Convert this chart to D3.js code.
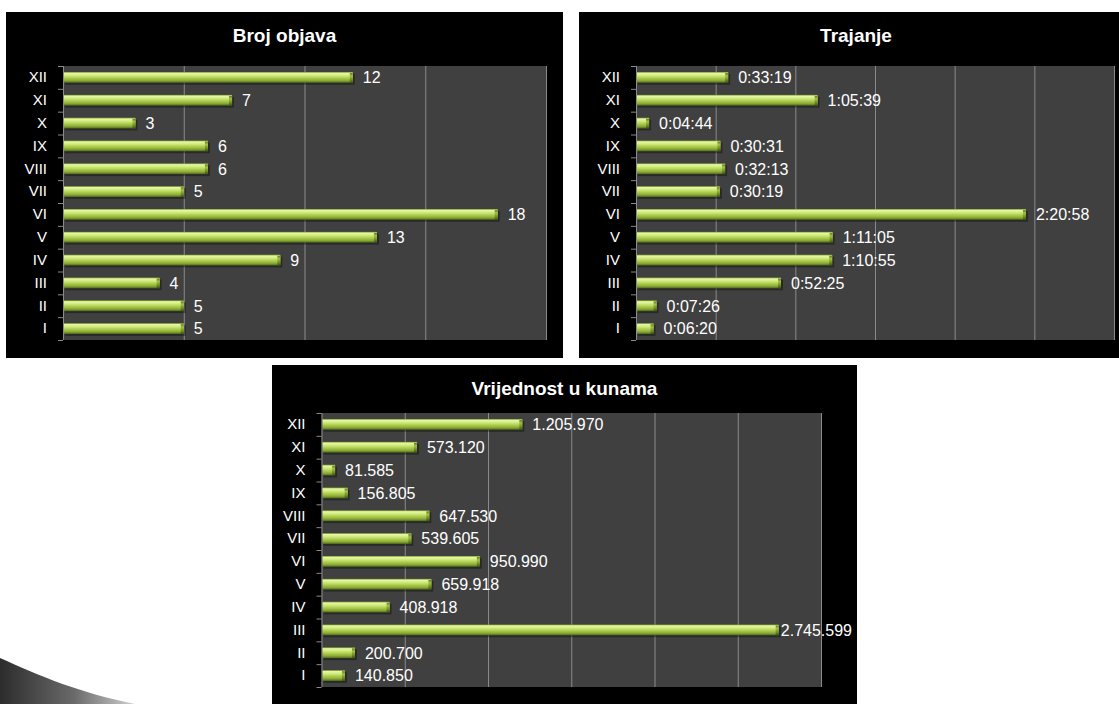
<!DOCTYPE html>
<html><head><meta charset="utf-8">
<script src="https://cdn.jsdelivr.net/npm/d3@7"></script>
<style>html,body{margin:0;padding:0;background:#fff;overflow:hidden;} svg{display:block;}</style>
</head><body><svg id="c" width="1119" height="704"></svg>
<script>
// ---- data ----
const categories = ["I","II","III","IV","V","VI","VII","VIII","IX","X","XI","XII"];
const brojObjava = [5,5,4,9,13,18,5,6,6,3,7,12];
const trajanje = ["0:06:20","0:07:26","0:52:25","1:10:55","1:11:05","2:20:58","0:30:19","0:32:13","0:30:31","0:04:44","1:05:39","0:33:19"];
const vrijednost = [140850,200700,2745599,408918,659918,950990,539605,647530,156805,81585,573120,1205970];
const titles = ["Broj objava","Trajanje","Vrijednost u kunama"];
const brojTicks = [0,5,10,15,20];
const trajanjeTicksDays = [0,0.02,0.04,0.06,0.08,0.10,0.12];
const vrijednostTicks = [0,500000,1000000,1500000,2000000,2500000,3000000];

const toSec = s => { const p = s.split(":").map(Number); return p[0]*3600 + p[1]*60 + p[2]; };
const dotFmt = v => d3.format(",")(v).replace(/,/g, ".");

const svg = d3.select("#c");
const FONT = "'Liberation Sans', Arial, sans-serif";

// ---- defs ----
const defs = svg.append("defs");
const bg = defs.append("linearGradient").attr("id","barGrad").attr("x1",0).attr("y1",0).attr("x2",0).attr("y2",1);
[[0,"#84a32e"],[0.12,"#e6f7a6"],[0.3,"#d4ec84"],[0.55,"#b0cf4f"],[0.8,"#8aaa36"],[1,"#50691a"]]
  .forEach(([o,c]) => bg.append("stop").attr("offset",o).attr("stop-color",c));
const cg = defs.append("linearGradient").attr("id","capGrad").attr("x1",0).attr("y1",0).attr("x2",0).attr("y2",1);
[[0,"#5f7c1e"],[0.3,"#a2c146"],[0.7,"#6c8b24"],[1,"#3c5012"]]
  .forEach(([o,c]) => cg.append("stop").attr("offset",o).attr("stop-color",c));
const sg = defs.append("linearGradient").attr("id","swoosh").attr("x1",0).attr("y1",0).attr("x2",1).attr("y2",0);
[[0,"#2c2c2c"],[0.55,"#6a6a6a"],[1,"#d0d0d0"]]
  .forEach(([o,c]) => sg.append("stop").attr("offset",o).attr("stop-color",c));

// decorative swoosh bottom-left
svg.append("path").attr("d","M0,658 C40,676 80,693 135,704 L0,704 Z").attr("fill","url(#swoosh)");

function drawChart(cfg) {
  const g = svg.append("g");
  const {box, plot} = cfg;
  g.append("rect").attr("x",box.x).attr("y",box.y).attr("width",box.w).attr("height",box.h).attr("fill","#000");
  g.append("text").attr("x",box.x+box.w/2).attr("y",box.y+30).attr("text-anchor","middle")
    .attr("fill","#fff").attr("font-family",FONT).attr("font-weight","bold").attr("font-size",19)
    .text(cfg.title);

  const x = d3.scaleLinear().domain(cfg.domain).range([plot.x0, plot.x1]);
  const y = d3.scaleBand().domain(categories.slice().reverse()).range([plot.y0, plot.y1])
    .paddingInner(0.53).paddingOuter(0.265);

  g.append("rect").attr("x",plot.x0).attr("y",plot.y0).attr("width",plot.x1-plot.x0).attr("height",plot.y1-plot.y0).attr("fill","#404040");

  // gridlines
  const grid = g.append("g").attr("transform",`translate(0,${plot.y1})`)
    .call(d3.axisBottom(x).tickValues(cfg.ticks).tickSize(-(plot.y1-plot.y0)).tickFormat(""));
  grid.select(".domain").remove();
  grid.selectAll(".tick line").attr("stroke","#8a8a8a").attr("stroke-width",1);
  grid.selectAll(".tick").filter(d => d === cfg.ticks[0]).remove();

  // category axis
  const ax = g.append("g").attr("transform",`translate(${plot.x0},0)`)
    .call(d3.axisLeft(y).tickSize(0).tickPadding(16));
  ax.select(".domain").remove();
  ax.selectAll("text").attr("fill","#fff").attr("font-family",FONT).attr("font-size",15);
  const step = y.step();
  const tickG = g.append("g").attr("stroke","#8a8a8a").attr("stroke-width",1);
  tickG.selectAll("line.t").data(d3.range(categories.length+1)).join("line")
    .attr("x1",plot.x0-5).attr("x2",plot.x0)
    .attr("y1",i => plot.y0 + i*step + 0.5).attr("y2",i => plot.y0 + i*step + 0.5);
  tickG.append("line").attr("x1",plot.x0+0.5).attr("x2",plot.x0+0.5).attr("y1",plot.y0).attr("y2",plot.y1);

  const data = categories.map((c,i) => ({c, v: cfg.values[i], label: cfg.labels[i]}));
  const bw = y.bandwidth();
  const bars = g.append("g").selectAll("g").data(data).join("g");
  bars.append("rect").attr("x",plot.x0+2).attr("y",d => y(d.c)+2)
    .attr("width",d => Math.max(0, x(d.v)-plot.x0)).attr("height",bw)
    .attr("fill","#000").attr("opacity",0.35);
  bars.append("rect").attr("x",plot.x0+1).attr("y",d => y(d.c))
    .attr("width",d => Math.max(0, x(d.v)-plot.x0-1)).attr("height",bw)
    .attr("fill","url(#barGrad)");
  bars.append("rect").attr("x",d => x(d.v)-3).attr("y",d => y(d.c)+1)
    .attr("width",3).attr("height",bw-1).attr("fill","url(#capGrad)");

  const labels = g.append("g").selectAll("text").data(data).join("text")
    .attr("x",d => x(d.v)+10).attr("y",d => y(d.c)+bw/2).attr("dy","0.36em")
    .attr("fill","#fff").attr("font-family",FONT).attr("font-size",16)
    .text(d => d.label);
  const maxRight = box.x + box.w - 5;
  labels.each(function(){
    const t = d3.select(this);
    const w = this.getComputedTextLength();
    const xx = +t.attr("x");
    if (xx + w > maxRight) t.attr("x", maxRight - w);
  });
}

drawChart({
  title: titles[0],
  box: {x:6, y:12, w:557, h:346},
  plot: {x0:63, x1:546, y0:66, y1:340},
  domain: [0, 20], ticks: brojTicks,
  values: brojObjava, labels: brojObjava.map(String)
});
drawChart({
  title: titles[1],
  box: {x:579, y:12, w:554, h:346},
  plot: {x0:636, x1:1114, y0:66, y1:340},
  domain: [0, trajanjeTicksDays[trajanjeTicksDays.length-1]*86400],
  ticks: trajanjeTicksDays.map(d => d*86400),
  values: trajanje.map(toSec), labels: trajanje
});
drawChart({
  title: titles[2],
  box: {x:272, y:365, w:585, h:345},
  plot: {x0:321.5, x1:821, y0:413, y1:687},
  domain: [0, 3000000], ticks: vrijednostTicks,
  values: vrijednost, labels: vrijednost.map(dotFmt)
});
</script>
</body></html>
